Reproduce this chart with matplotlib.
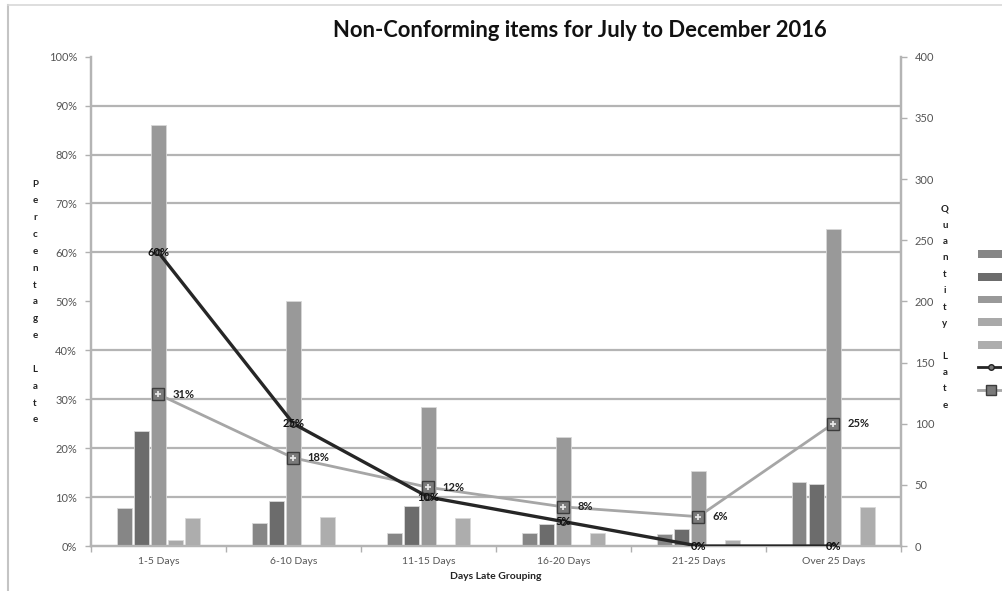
import matplotlib
matplotlib.use("Agg")
import matplotlib.pyplot as plt
from matplotlib.ticker import MultipleLocator, FuncFormatter, FixedLocator
from matplotlib.lines import Line2D
from matplotlib.patches import Patch

plt.rcParams['font.family'] = ['Lato', 'DejaVu Sans']

categories = ['1-5 Days', '6-10 Days', '11-15 Days', '16-20 Days', '21-25 Days', 'Over 25 Days']

# quantities late per series (right axis)
qty_a = [31, 19, 11, 11, 10, 52]
qty_b = [94, 37, 33, 18, 14, 51]
qty_c = [344, 200, 114, 89, 61, 259]
qty_d = [5, 0, 0, 0, 0, 0]
qty_e = [23, 24, 23, 11, 5, 32]

# percentage late lines (left axis)
pct_dark = [60, 25, 10, 5, 0, 0]
pct_grey = [31, 18, 12, 8, 6, 25]

bar_series = [qty_a, qty_b, qty_c, qty_d, qty_e]
bar_colors = ['#868686', '#6c6c6c', '#999999', '#a9a9a9', '#adadad']

fig = plt.figure(figsize=(10.03, 5.91), dpi=100)
ax = fig.add_axes([0.0907, 0.0761, 0.8073, 0.8280])
ax2 = ax.twinx()

x = range(len(categories))
slot = 0.126
width = 0.108
for i, (vals, col) in enumerate(zip(bar_series, bar_colors)):
    pos = [c + (i - 2) * slot for c in x]
    ax2.bar(pos, vals, width=width, color=col, edgecolor='#d8d8d8', linewidth=0.6, zorder=3)

# quantity axis
ax2.set_ylim(0, 400)
ax2.yaxis.set_major_locator(MultipleLocator(50))
ax2.yaxis.set_minor_locator(MultipleLocator(40))
ax2.grid(which='minor', axis='y', color='#b4b4b4', linewidth=1.6, zorder=0)
ax2.tick_params(axis='y', which='minor', length=0)
ax2.tick_params(axis='y', which='major', length=4, width=1, color='#b0b0b0',
                labelsize=8, labelcolor='#555555', pad=6)
ax2.set_axisbelow(True)

# percentage axis, drawn above the bars
ax.set_zorder(ax2.get_zorder() + 1)
ax.patch.set_visible(False)
ax.set_ylim(0, 100)
ax.yaxis.set_major_locator(MultipleLocator(10))
ax.yaxis.set_major_formatter(FuncFormatter(lambda v, p: f'{v:.0f}%'))
ax.tick_params(axis='y', length=4, width=1, color='#b0b0b0', labelsize=8,
               labelcolor='#555555', pad=6)

ax.set_xlim(-0.5, len(categories) - 0.5)
ax.set_xticks(list(x))
ax.set_xticklabels(categories)
ax.xaxis.set_minor_locator(FixedLocator([c - 0.5 for c in range(len(categories) + 1)]))
ax.tick_params(axis='x', which='major', length=0, labelsize=7.5, labelcolor='#555555', pad=8)
ax.tick_params(axis='x', which='minor', length=4, width=1, color='#b0b0b0')
ax2.tick_params(axis='x', which='both', length=0)

for a in (ax, ax2):
    for side in ('left', 'right', 'bottom'):
        a.spines[side].set_color('#b4b4b4')
        a.spines[side].set_linewidth(1.6)
    a.spines['top'].set_visible(False)

ax.plot(x, pct_grey, color='#a6a6a6', linewidth=2, zorder=4)
ax.plot(x, pct_grey, linestyle='none', marker='s', markersize=8,
        markerfacecolor='#7a7a7a', markeredgecolor='#3c3c3c', zorder=5)
ax.plot(x, pct_grey, linestyle='none', marker='+', markersize=5,
        markeredgecolor='#e6e6e6', markeredgewidth=1.3, zorder=6)
ax.plot(x, pct_dark, color='#262626', linewidth=2.4, marker='o', markersize=4,
        markerfacecolor='#777777', markeredgecolor='#222222', zorder=7)

for xi, v in zip(x, pct_grey):
    ax.annotate(f'{v}%', (xi, v), xytext=(10, 0), textcoords='offset points',
                ha='left', va='center', fontsize=8, fontweight='bold',
                color='#222222', zorder=8)
for xi, v in zip(x, pct_dark):
    ax.annotate(f'{v}%', (xi, v), ha='center', va='center', fontsize=8,
                fontweight='bold', color='#111111', zorder=8)

ax.set_xlabel('Days Late Grouping', fontsize=7.5, fontweight='bold', color='#222222', labelpad=4)
fig.text(0.578, 0.949, 'Non-Conforming items for July to December 2016', ha='center',
         va='center', fontsize=15.8, fontweight='bold', color='#111111')

# stacked axis titles
fig.text(35 / 1003, 1 - 302 / 591, '\n'.join('Percentage Late'), ha='center', va='center',
         fontsize=7, fontweight='bold', color='#222222', linespacing=2.12)
fig.text(945 / 1003, 1 - 307 / 591, '\n'.join('Quantity Late'), ha='center', va='center',
         fontsize=7, fontweight='bold', color='#222222', linespacing=2.05)

# legend on the right edge
handles = [Patch(facecolor=c, edgecolor='none') for c in bar_colors]
handles.append(Line2D([], [], color='#262626', linewidth=2, marker='o', markersize=4,
                      markerfacecolor='#777777', markeredgecolor='#222222'))
handles.append(Line2D([], [], color='#a6a6a6', linewidth=2, marker='s', markersize=7,
                      markerfacecolor='#7a7a7a', markeredgecolor='#3c3c3c'))
fig.legend(handles, [''] * len(handles), loc='upper left',
           bbox_to_anchor=(978 / 1003, 1 - 249 / 591), frameon=False, fontsize=8,
           handlelength=2.4, handleheight=0.7, labelspacing=1.05, borderpad=0,
           borderaxespad=0)

# outer frame lines
fig.add_artist(Line2D([8 / 1003, 8 / 1003], [0, 1 - 5 / 591], transform=fig.transFigure,
                      color='#c4c4c4', linewidth=1.5))
fig.add_artist(Line2D([8 / 1003, 1], [1 - 5 / 591, 1 - 5 / 591], transform=fig.transFigure,
                      color='#d8d8d8', linewidth=1.2))

fig.savefig('out.png', dpi=100)
